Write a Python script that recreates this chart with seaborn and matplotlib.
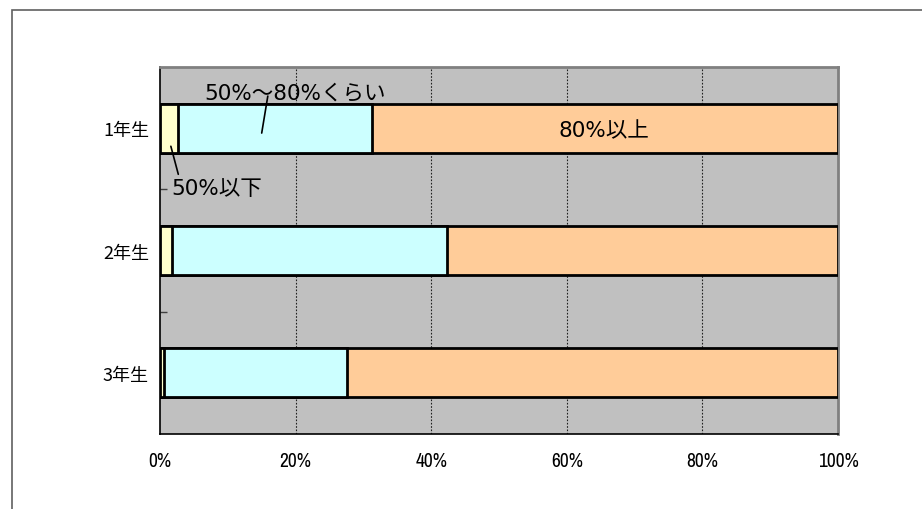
import matplotlib
matplotlib.use("Agg")
import matplotlib.pyplot as plt
from matplotlib import font_manager
from matplotlib.patches import Rectangle
from matplotlib.ticker import FixedLocator
import seaborn as sns
import pandas as pd

# ---- data ----
grades = ["1年生", "2年生", "3年生"]
below50 = [2.7, 1.8, 0.6]          # 50%以下
mid50_80 = [28.5, 40.6, 27.0]      # 50%～80%くらい
above80 = [68.8, 57.6, 72.4]       # 80%以上
series_names = ["50%以下", "50%～80%くらい", "80%以上"]
series_colors = ["#FFFFCC", "#CCFFFF", "#FFCC99"]
xticks = [0, 20, 40, 60, 80, 100]
xtick_labels = ["0%", "20%", "40%", "60%", "80%", "100%"]

sns.set_theme(style="white")
plt.rcParams["font.family"] = ["Noto Sans CJK JP", "DejaVu Sans"]
plt.rcParams["text.color"] = "black"
plt.rcParams["xtick.color"] = "black"
plt.rcParams["ytick.color"] = "black"

names = {f.name for f in font_manager.fontManager.ttflist}
narrow = "Archivo Narrow" if "Archivo Narrow" in names else "Liberation Sans"
label_family = ["DejaVu Sans", "Noto Sans CJK JP"]

fig = plt.figure(figsize=(9.22, 5.10), dpi=100)
fig.patch.set_facecolor("white")
fig.add_artist(Rectangle((12 / 922, -0.05), 1.0, 1 - 11 / 510 + 0.05,
                         transform=fig.transFigure, fill=False,
                         edgecolor="#606060", linewidth=1.2))

ax = fig.add_axes([160 / 922, 1 - 435 / 510, (838 - 160) / 922, (435 - 68) / 510])
ax.set_facecolor("#C0C0C0")

df = pd.DataFrame({"grade": grades, "a": below50, "b": mid50_80, "c": above80})
cum1 = df["a"]
cum2 = df["a"] + df["b"]
cum3 = df["a"] + df["b"] + df["c"]

for vals, col in [(cum3, series_colors[2]), (cum2, series_colors[1]), (cum1, series_colors[0])]:
    sns.barplot(x=vals, y=df["grade"], orient="h", color=col, width=0.4,
                edgecolor="black", linewidth=2, saturation=1, ax=ax, zorder=3)

ax.set_xlim(0, 100)
ax.set_ylim(2.5, -0.5)
ax.set_xlabel("")
ax.set_ylabel("")

ax.set_xticks(xticks)
ax.set_xticklabels(xtick_labels, fontfamily=narrow, fontsize=14)
ax.tick_params(axis="x", length=0, pad=12)
ax.tick_params(axis="y", which="major", length=0, pad=8, labelsize=13)
ax.yaxis.set_minor_locator(FixedLocator([0.5, 1.5]))
ax.tick_params(axis="y", which="minor", direction="in", length=5, width=1, color="#404040", left=True)

ax.grid(False)
for xv in xticks[1:-1]:
    ax.axvline(xv, color="#202020", linestyle=(0, (1.5, 1.5)), linewidth=0.8, zorder=1)

for s in ["top", "right"]:
    ax.spines[s].set_color("#808080")
    ax.spines[s].set_linewidth(2)
for s in ["left", "bottom"]:
    ax.spines[s].set_color("black")
    ax.spines[s].set_linewidth(1.2)

ax.text(19.9, -0.295, series_names[1], ha="center", va="center", fontsize=15.5,
        family=label_family, zorder=5)
ax.plot([15.9, 15.0], [-0.262, 0.04], color="black", linewidth=1.2, zorder=5)
ax.text(65.5, 0.016, series_names[2], ha="center", va="center", fontsize=15.5,
        family=label_family, zorder=5)
ax.text(8.4, 0.49, series_names[0], ha="center", va="center", fontsize=15.5,
        family=label_family, zorder=5)
ax.plot([1.6, 2.7], [0.148, 0.377], color="black", linewidth=1.2, zorder=5)

fig.savefig("out.png", dpi=100, facecolor="white")
